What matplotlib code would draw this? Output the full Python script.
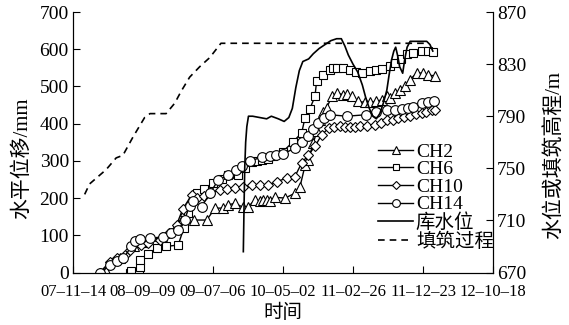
import matplotlib
matplotlib.use("Agg")
import matplotlib.pyplot as plt

plt.rcParams['font.family'] = ['Liberation Serif', 'Noto Sans CJK SC']
plt.rcParams['axes.unicode_minus'] = False

# days counted from 2007-11-14
tick_days = [0, 300, 600, 900, 1200, 1500, 1800]
tick_labels = ['07–11–14', '08–09–09', '09–07–06', '10–05–02', '11–02–26', '11–12–23', '12–10–18']

ch2_day = [140, 200, 260, 300, 380, 440, 480, 501, 520, 573, 609, 644, 666, 694, 730, 751, 780, 800,
           815, 830, 845, 866, 909, 951, 973, 995, 1009, 1030, 1045, 1059, 1073, 1087, 1109, 1130,
           1159, 1175, 1194, 1223, 1251, 1273, 1300, 1323, 1344, 1360, 1380, 1400, 1423, 1444, 1473,
           1501, 1520, 1551]
ch2_mm = [5, 40, 70, 82, 95, 120, 164, 150, 141, 141, 173, 173, 182, 186, 175, 177, 195, 192,
          194, 196, 193, 202, 200, 213, 231, 289, 303, 348, 380, 411, 430, 442, 473, 482,
          478, 480, 473, 460, 457, 457, 460, 464, 473, 470, 482, 490, 500, 518, 536,
          536, 530, 529]

ch6_day = [244, 250, 286, 288, 320, 359, 400, 451, 475, 493, 515, 530, 560, 600, 640, 666, 701, 709,
           737, 766, 790, 809, 835, 859, 900, 944, 980, 994, 1015, 1037, 1044, 1073, 1101, 1115,
           1130, 1159, 1187, 1215, 1237, 1275, 1300, 1323, 1359, 1380, 1405, 1430, 1459, 1494,
           1520, 1544]
ch6_mm = [0, 5, 16, 34, 50, 65, 70, 74, 120, 160, 200, 215, 225, 240, 252, 262, 264, 262,
          280, 298, 300, 303, 306, 314, 325, 352, 375, 415, 440, 473, 514, 532, 545, 550,
          550, 550, 543, 540, 536, 541, 545, 547, 554, 563, 575, 586, 590, 594,
          594, 593]

ch10_day = [114, 159, 190, 223, 245, 266, 290, 320, 373, 410, 444, 470, 509, 530, 560, 587, 630,
            660, 694, 730, 766, 800, 837, 873, 916, 951, 980, 1009, 1037, 1066, 1096, 1120, 1144,
            1165, 1187, 1210, 1230, 1260, 1294, 1320, 1344, 1370, 1395, 1420, 1444, 1470, 1494,
            1515, 1537, 1551]
ch10_mm = [0, 29, 40, 47, 60, 79, 75, 80, 87, 105, 128, 170, 209, 200, 205, 213, 222,
           225, 227, 230, 236, 236, 236, 244, 254, 258, 294, 316, 339, 370, 388, 392, 394,
           392, 391, 392, 393, 395, 397, 402, 411, 410, 415, 418, 420, 425, 429,
           432, 437, 437]

ch14_day = [114, 160, 190, 216, 250, 266, 287, 330, 387, 420, 451, 478, 500, 516, 551, 587, 623,
            666, 700, 723, 760, 809, 844, 870, 901, 951, 980, 1009, 1030, 1051, 1075, 1101, 1173,
            1256, 1300, 1344, 1380, 1410, 1435, 1459, 1494, 1520, 1547]
ch14_mm = [0, 20, 30, 38, 70, 86, 89, 92, 96, 105, 114, 141, 180, 191, 177, 213, 249,
           262, 275, 285, 300, 310, 312, 315, 319, 334, 350, 366, 385, 402, 415, 424, 420,
           424, 430, 437, 437, 440, 442, 446, 455, 458, 460]

res_day = [730, 733, 736, 740, 745, 752, 770, 800, 830, 850, 880, 905, 925, 940, 955, 970, 985,
           1010, 1030, 1055, 1080, 1105, 1130, 1150, 1165, 1180, 1200, 1220, 1240, 1255, 1270,
           1285, 1300, 1315, 1330, 1345, 1355, 1365, 1375, 1383, 1392, 1400, 1413, 1422, 1432,
           1445, 1480, 1516, 1530, 1542]
res_level = [686, 720, 750, 770, 782, 790, 790, 789, 788, 790, 788, 786, 789, 796, 812, 825, 832,
             834, 838, 842, 845, 848, 849.5, 849.5, 844, 837, 830, 824, 814, 804, 796,
             790, 788, 792, 800, 810, 822, 833, 840, 843, 836, 828, 823, 834, 843,
             847.5, 847.5, 847.5, 845, 840]

fill_day = [50, 71, 142, 185, 214, 257, 307, 330, 399, 436, 463, 500, 543, 586, 634, 1520]
fill_level = [730, 738, 749, 758, 760, 774, 789, 792, 792, 800, 809, 820, 828, 835, 846, 846]

fig = plt.figure(figsize=(5.69, 3.25), dpi=100)
ax = fig.add_axes([0.1283, 0.1615, 0.7381, 0.8015])
ax2 = ax.twinx()

mk = dict(color='black', markerfacecolor='white', markeredgecolor='black',
          markeredgewidth=0.8, linewidth=1.0)
h1, = ax.plot(ch2_day, ch2_mm, marker='^', markersize=6.5, label='CH2', **mk)
h2, = ax.plot(ch6_day, ch6_mm, marker='s', markersize=6, label='CH6', **mk)
h3, = ax.plot(ch10_day, ch10_mm, marker='D', markersize=5, label='CH10', **mk)
h4, = ax.plot(ch14_day, ch14_mm, marker='o', markersize=7, label='CH14', **mk)

h5, = ax2.plot(res_day, res_level, color='black', linewidth=1.2, label='库水位')
h6, = ax2.plot(fill_day, fill_level, color='black', linewidth=1.2, linestyle=(0, (4, 3)),
               label='填筑过程')

ax.set_xlim(0, 1800)
ax.set_ylim(0, 700)
ax2.set_ylim(670, 870)
ax.set_xticks(tick_days)
ax.set_xticklabels(tick_labels)
ax.set_yticks(range(0, 701, 100))
ax2.set_yticks(range(670, 871, 40))

for a in (ax, ax2):
    a.spines['top'].set_visible(False)
    a.tick_params(direction='in', length=5, width=0.8, labelsize=14, pad=3)
ax.tick_params(axis='x', labelsize=12, pad=8)

ax.set_xlabel('时间', fontsize=14)
ax.xaxis.set_label_coords(0.5, -0.12)
ax.set_ylabel('水平位移/mm', fontsize=15)
ax.yaxis.set_label_coords(-0.098, 0.44)
ax2.set_ylabel('水位或填筑高程/m', fontsize=15)
ax2.yaxis.set_label_coords(1.124, 0.45)

ax2.legend(handles=[h1, h2, h3, h4, h5, h6], loc='upper left',
           bbox_to_anchor=(378 / 569, 1 - 143 / 325), bbox_transform=fig.transFigure,
           frameon=False, fontsize=14, handlelength=1.8, handletextpad=0.15,
           labelspacing=0.0, borderpad=0, borderaxespad=0, markerscale=0.8)

fig.savefig('out.png', dpi=100)
